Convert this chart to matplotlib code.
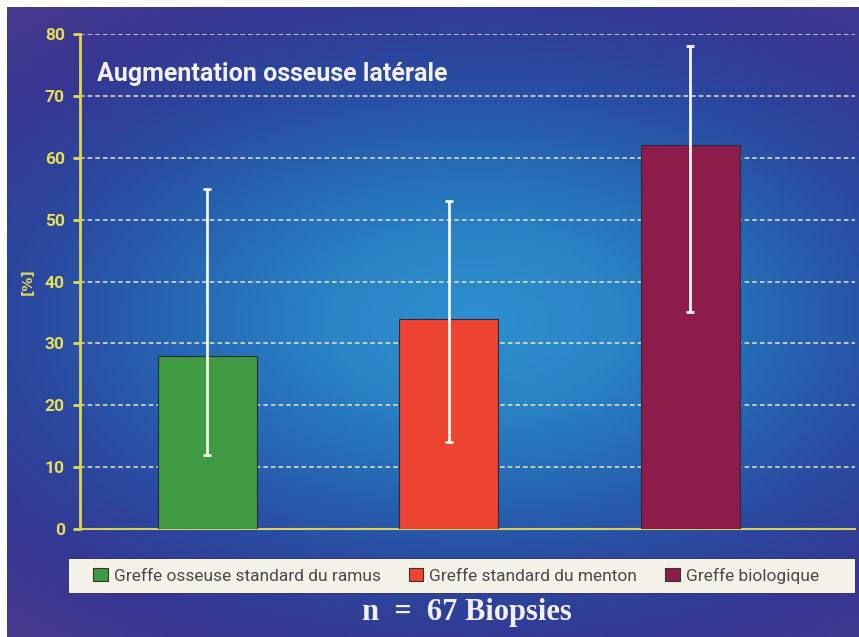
import numpy as np
import matplotlib.pyplot as plt
from matplotlib.colors import LinearSegmentedColormap
from matplotlib.patches import Patch, Rectangle

# donnees
categories = ["Greffe osseuse standard du ramus",
              "Greffe standard du menton",
              "Greffe biologique"]
moyennes = [28, 34, 62]
err_bas = [12, 14, 35]
err_haut = [55, 53, 78]
couleurs = ["#3f9a42", "#ec4430", "#8c1c4a"]
yticks = [0, 10, 20, 30, 40, 50, 60, 70, 80]

fig = plt.figure(figsize=(8.59, 6.37), dpi=100)
fig.patch.set_facecolor("white")

# fond degrade (bleu clair au centre, violet sur les bords)
bg = fig.add_axes([7 / 859, 0, 852 / 859, 630 / 637])
bg.set_axis_off()
xx, yy = np.meshgrid(np.linspace(0, 1, 300), np.linspace(0, 1, 300))
d = np.sqrt(((xx - 0.55) / 0.78) ** 2 + ((yy - 0.50) / 0.60) ** 2)
cmap_bg = LinearSegmentedColormap.from_list(
    "fond", ["#2e8fcf", "#2a84c6", "#2668b4", "#2a4aa0", "#353793",
             "#48398c"])
bg.imshow(np.clip(d, 0, 1.1), cmap=cmap_bg, aspect="auto",
          extent=[0, 1, 0, 1], vmin=0, vmax=1.1)

# cadre de la legende
fig.patches.append(Rectangle((68 / 859, 44 / 637), 787 / 859, 35 / 637,
                             transform=fig.transFigure, facecolor="#f3f1e8",
                             edgecolor="#2a2a40", linewidth=0.6, zorder=1))

ax = fig.add_axes([80 / 859, 108 / 637, 775 / 859, 495 / 637])
ax.patch.set_alpha(0)

x = np.arange(len(categories))
yerr = [np.array(moyennes) - np.array(err_bas),
        np.array(err_haut) - np.array(moyennes)]
ax.bar(x, moyennes, width=0.41, color=couleurs, edgecolor="#2a2a3a",
       linewidth=0.8, zorder=3)
ax.errorbar(x, moyennes, yerr=yerr, fmt="none", ecolor="#f4f4ee",
            elinewidth=2, capsize=3, capthick=2, zorder=4)

ax.set_xlim(-0.526, 2.683)
ax.set_ylim(0, 80)
ax.set_yticks(yticks)
ax.set_xticks([])
ax.grid(axis="y", color="#e8e6c0", linestyle=(0, (3, 2)), linewidth=1.1,
        zorder=1)
for s in ["top", "right"]:
    ax.spines[s].set_visible(False)
ax.spines["left"].set_color("#e0d848")
ax.spines["left"].set_linewidth(2)
ax.spines["bottom"].set_color("#d8d060")
ax.spines["bottom"].set_linewidth(1.5)
ax.tick_params(axis="y", colors="#e4dc50", length=5, width=2,
               labelsize=12.5, pad=6)
for t in ax.get_yticklabels():
    t.set_fontweight("bold")
    t.set_color("#e8de58")
    t.set_family("Roboto")
ax.set_ylabel("[%]", color="#e4dc50", fontsize=10, fontweight="bold",
              labelpad=2)
ax.yaxis.set_label_coords(-0.058, 0.5)

ax.text(0.022, 0.92, "Augmentation osseuse latérale", transform=ax.transAxes,
        color="#f2f0ea", fontsize=18, fontweight="bold", family="Roboto",
        va="center", ha="left")

handles = [Patch(facecolor=c, edgecolor="#333333", linewidth=0.8)
           for c in couleurs]
leg = fig.legend(handles, categories, ncol=3,
                 bbox_to_anchor=(456 / 859, 61.5 / 637),
                 loc="center", frameon=False,
                 handlelength=0.85, handleheight=0.85, handletextpad=0.35,
                 columnspacing=1.6,
                 prop={"family": "Roboto", "size": 12.5})
for t in leg.get_texts():
    t.set_color("#4a4a4a")

fig.text(0.544, 0.038, "n  =  67 Biopsies", color="#f2f0ea", fontsize=22,
         fontweight="bold", family="Liberation Serif", ha="center",
         va="center")

fig.savefig("out.png", dpi=100)
